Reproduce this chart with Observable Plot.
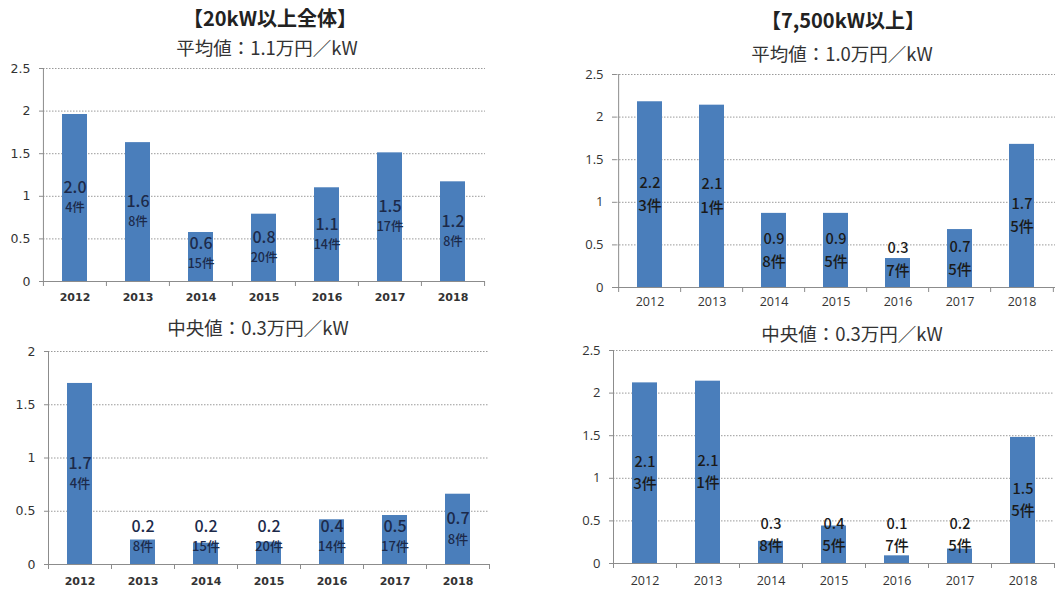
<!DOCTYPE html>
<html>
<head>
<meta charset="utf-8">
<script src="https://cdn.jsdelivr.net/npm/d3@7"></script>
<script src="https://cdn.jsdelivr.net/npm/@observablehq/plot@0.6"></script>
<style>
  body { margin: 0; background: #fff; }
  #page { position: relative; width: 1055px; height: 592px; overflow: hidden; font-family: "Noto Sans CJK JP", sans-serif; }
  .head { position: absolute; transform: translate(-50%, -50%); white-space: nowrap; line-height: 1; }
  .title { font-size: 20px; font-weight: 700; color: #222; }
  .sub { font-size: 18.5px; color: #333; }
  .panel { position: absolute; }
</style>
</head>
<body>
<div id="page"></div>
<script>
// Fiscal years on the category axis
const years = ["2012", "2013", "2014", "2015", "2016", "2017", "2018"];

// 20kW and above (all plants): average and median, 万円/kW, with case counts
const allAvg = [1.96, 1.63, 0.575, 0.79, 1.10, 1.51, 1.17];
const allMed = [1.70, 0.23, 0.20, 0.21, 0.42, 0.46, 0.66];
const allCount = [4, 8, 15, 20, 14, 17, 8];

// 7,500kW and above: average and median, 万円/kW, with case counts
const bigAvg = [2.18, 2.14, 0.87, 0.87, 0.34, 0.68, 1.68];
const bigMed = [2.12, 2.14, 0.26, 0.44, 0.09, 0.17, 1.48];
const bigCount = [3, 1, 8, 5, 7, 5, 5];

// Value-axis ticks
const ticks25 = [0, 0.5, 1, 1.5, 2, 2.5];
const ticks20 = [0, 0.5, 1, 1.5, 2];

// Headings
const headings = [
  {text: "【20kW以上全体】", cls: "title", x: 270, y: 18},
  {text: "平均値：1.1万円／kW", cls: "sub", x: 267, y: 47},
  {text: "【7,500kW以上】", cls: "title", x: 843, y: 20},
  {text: "平均値：1.0万円／kW", cls: "sub", x: 842, y: 53},
  {text: "中央値：0.3万円／kW", cls: "sub", x: 258, y: 327},
  {text: "中央値：0.3万円／kW", cls: "sub", x: 852, y: 333}
];

const page = document.getElementById("page");
for (const h of headings) {
  const el = document.createElement("div");
  el.className = "head " + h.cls;
  el.style.left = h.x + "px";
  el.style.top = h.y + "px";
  el.textContent = h.text;
  page.appendChild(el);
}

const fmt = d3.format(".1f");
const axisGrey = "#8c8c8c";

function panel(o) {
  const data = years.map((year, i) => ({year, v: o.values[i], n: o.counts[i]}));
  const ymax = d3.max(o.ticks);
  const ph = 213;
  const innerW = o.width - o.ml - o.mr;
  const step = innerW / years.length;
  const unit = ph / ymax;
  const minMid = 28 / unit;
  const mid = d => Math.max(d.v / 2, minMid);
  const chart = Plot.plot({
    width: o.width,
    height: o.mt + ph + o.mb,
    marginLeft: o.ml,
    marginRight: o.mr,
    marginTop: o.mt,
    marginBottom: o.mb,
    x: {domain: years, paddingInner: 0.6, paddingOuter: 0.3},
    y: {domain: [0, ymax]},
    style: {background: "transparent", overflow: "visible"},
    marks: [
      Plot.ruleY(o.ticks.filter(t => t > 0), {stroke: "#9a9a9a", strokeDasharray: "1.5,1.5"}),
      Plot.barY(data, {x: "year", y: "v", fill: "#4a7ebb"}),
      Plot.ruleY([0], {stroke: axisGrey}),
      Plot.ruleX([years[0]], {dx: -step / 2, y1: 0, y2: ymax, stroke: axisGrey}),
      Plot.ruleX(years, {dx: -step / 2, y1: 0, y2: -5 / unit, stroke: axisGrey}),
      Plot.ruleX([years[years.length - 1]], {dx: step / 2, y1: 0, y2: -5 / unit, stroke: axisGrey}),
      Plot.axisY({ticks: o.ticks, tickSize: 4, tickPadding: 9, tickFormat: d3.format("~g"), label: null,
        stroke: axisGrey, fill: "#333", fontSize: o.yFont, fontFamily: o.axisFamily}),
      Plot.axisX({tickSize: 0, tickPadding: o.xPad, label: null, fill: "#333",
        fontSize: o.xFont, fontWeight: o.xWeight, fontFamily: o.axisFamily}),
      Plot.text(data, {x: "year", y: mid, text: d => fmt(d.v), dy: -o.gap,
        fontSize: o.valueFont, fontWeight: 500, fill: o.labelColor, fontFamily: "Noto Sans CJK JP"}),
      Plot.text(data, {x: "year", y: mid, text: d => d.n + "件", dy: o.gap,
        fontSize: o.countFont, fontWeight: 500, fill: o.labelColor, fontFamily: "Noto Sans CJK JP"})
    ]
  });
  const wrap = document.createElement("div");
  wrap.className = "panel";
  wrap.style.left = o.left + "px";
  wrap.style.top = o.top + "px";
  wrap.appendChild(chart);
  page.appendChild(wrap);
}

const leftStyle = {axisFamily: "DejaVu Sans", xFont: 11, xWeight: 700, yFont: 12.5, labelColor: "#1c2a4a"};
const rightStyle = {axisFamily: "Open Sans", xFont: 12.5, xWeight: 400, yFont: 13, labelColor: "#1a1a1a"};

panel({...leftStyle, values: allAvg, counts: allCount, ticks: ticks25,
  left: 0, top: 58, width: 500, ml: 43, mr: 15, mt: 10, mb: 28, xPad: 12,
  gap: 10, valueFont: 16, countFont: 12.5});
panel({...rightStyle, values: bigAvg, counts: bigCount, ticks: ticks25,
  left: 540, top: 64, width: 515, ml: 76, mr: 0, mt: 10, mb: 28, xPad: 10,
  gap: 11.5, valueFont: 14.5, countFont: 15});
panel({...leftStyle, values: allMed, counts: allCount, ticks: ticks20,
  left: 0, top: 341, width: 500, ml: 48, mr: 11, mt: 10, mb: 28, xPad: 13,
  gap: 10, valueFont: 16, countFont: 13});
panel({...rightStyle, values: bigMed, counts: bigCount, ticks: ticks25,
  left: 540, top: 340, width: 515, ml: 73, mr: 1, mt: 10, mb: 28, xPad: 13,
  gap: 11, valueFont: 14.5, countFont: 15});
</script>
</body>
</html>
